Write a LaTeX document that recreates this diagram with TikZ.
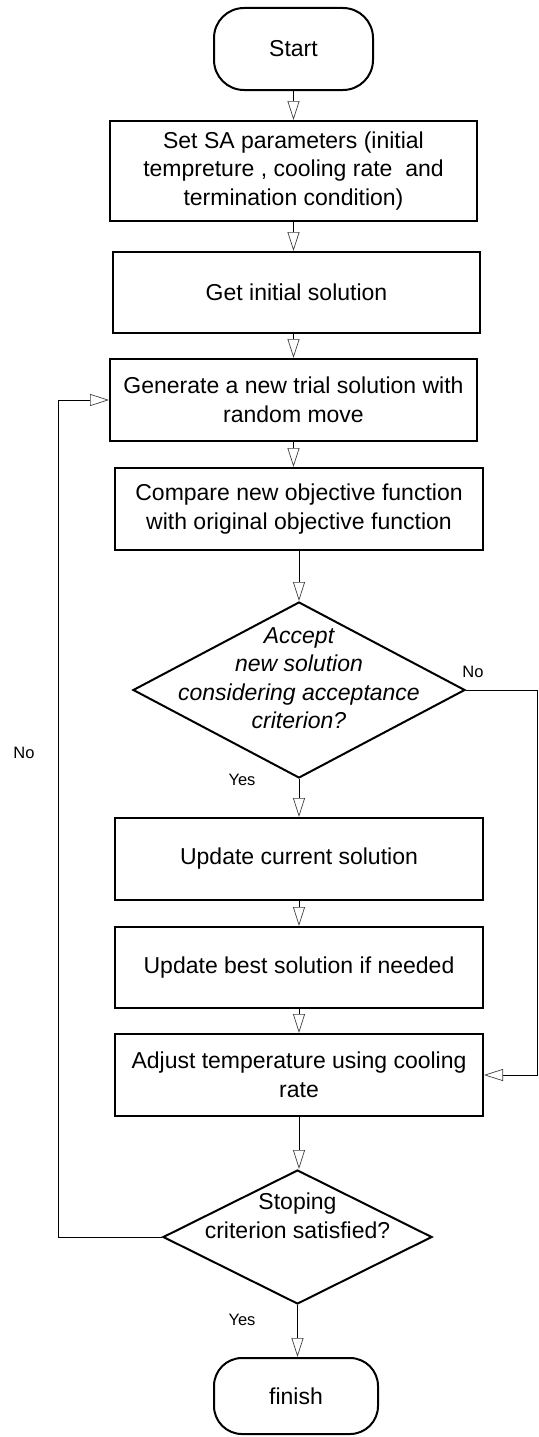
\documentclass[tikz,border=0pt]{standalone}
\usepackage{fontspec}
\setmainfont{Liberation Sans}
\usetikzlibrary{arrows.meta,shapes.geometric}
\tikzset{
  txt/.style={font=\fontsize{23}{28.5}\selectfont},
  proc/.style={txt, draw, line width=2pt, rectangle, inner sep=0pt, align=center},
  term/.style={txt, draw, line width=2pt, rectangle, rounded corners=30pt, inner sep=0pt},
  dec/.style={draw, diamond, line width=2pt, inner sep=0pt},
  lbl/.style={font=\fontsize{16.5}{19}\selectfont, inner sep=0pt},
  arr/.style={line width=1pt, -{Triangle[open,length=19pt,width=12pt,line width=0.7pt,color=black!75]}}
}
\begin{document}
\begin{tikzpicture}[x=1pt,y=-1pt]
\useasboundingbox (0,0) rectangle (538,1437);
\node[term, minimum width=159pt, minimum height=82pt] (start) at (293.5,49) {Start};
\node[proc, minimum width=367pt, minimum height=100pt] (box1) at (293.5,171)
  {Set SA parameters (initial\\tempreture , cooling rate\ \ and\\termination condition)};
\node[proc, minimum width=367pt, minimum height=81pt] (box2) at (296.5,292.5) {Get initial solution};
\node[proc, minimum width=367pt, minimum height=82pt] (box3) at (293.5,400)
  {Generate a new trial solution with\\random move};
\node[proc, minimum width=368pt, minimum height=82pt] (box4) at (299,509)
  {Compare new objective function\\with original objective function};
\node[dec, minimum width=332pt, minimum height=176pt] (dec1) at (299,690) {};
\node[txt, align=center, inner sep=0pt, font=\fontsize{23}{28.5}\selectfont\itshape] (dec1t) at (299,678)
  {Accept\\new solution\\considering acceptance\\criterion?};
\node[proc, minimum width=368pt, minimum height=82pt] (box5) at (299,859) {Update current solution};
\node[proc, minimum width=368pt, minimum height=81pt] (box6) at (299,967.5) {Update best solution if needed};
\node[proc, minimum width=368pt, minimum height=82pt] (box7) at (299,1075)
  {Adjust temperature using cooling\\rate};
\node[dec, minimum width=269pt, minimum height=134pt] (dec2) at (297.5,1237) {};
\node[txt, align=center, inner sep=0pt] (dec2t) at (297.5,1216) {Stoping\\criterion satisfied?};
\node[term, minimum width=164pt, minimum height=76pt, rounded corners=28pt] (finish) at (296,1396) {finish};

\node[lbl] (no1) at (473,672) {No};
\node[lbl] (no2) at (24,753) {No};
\node[lbl] (yes1) at (242,780) {Yes};
\node[lbl] (yes2) at (242,1320) {Yes};

\draw[arr] (start.south) -- (box1.north);
\draw[arr] (box1.south) -- (box1.south |- box2.north);
\draw[arr] (box3.north |- box2.south) -- (box3.north);
\draw[arr] (box3.south) -- (box3.south |- box4.north);
\draw[arr] (box4.south) -- (dec1.north);
\draw[arr] (dec1.south) -- (box5.north);
\draw[arr] (box5.south) -- (box6.north);
\draw[arr] (box6.south) -- (box7.north);
\draw[arr] (box7.south) -- (box7.south |- dec2.north);
\draw[arr] (dec2.south) -- (dec2.south |- finish.north);

\coordinate (r2) at (537,1075);
\draw[arr] (dec1.east) -| (r2) -- (box7.east);
\coordinate (l1) at (58,1237);
\draw[arr] (dec2.west) -- (l1) |- (box3.west);
\end{tikzpicture}
\end{document}
